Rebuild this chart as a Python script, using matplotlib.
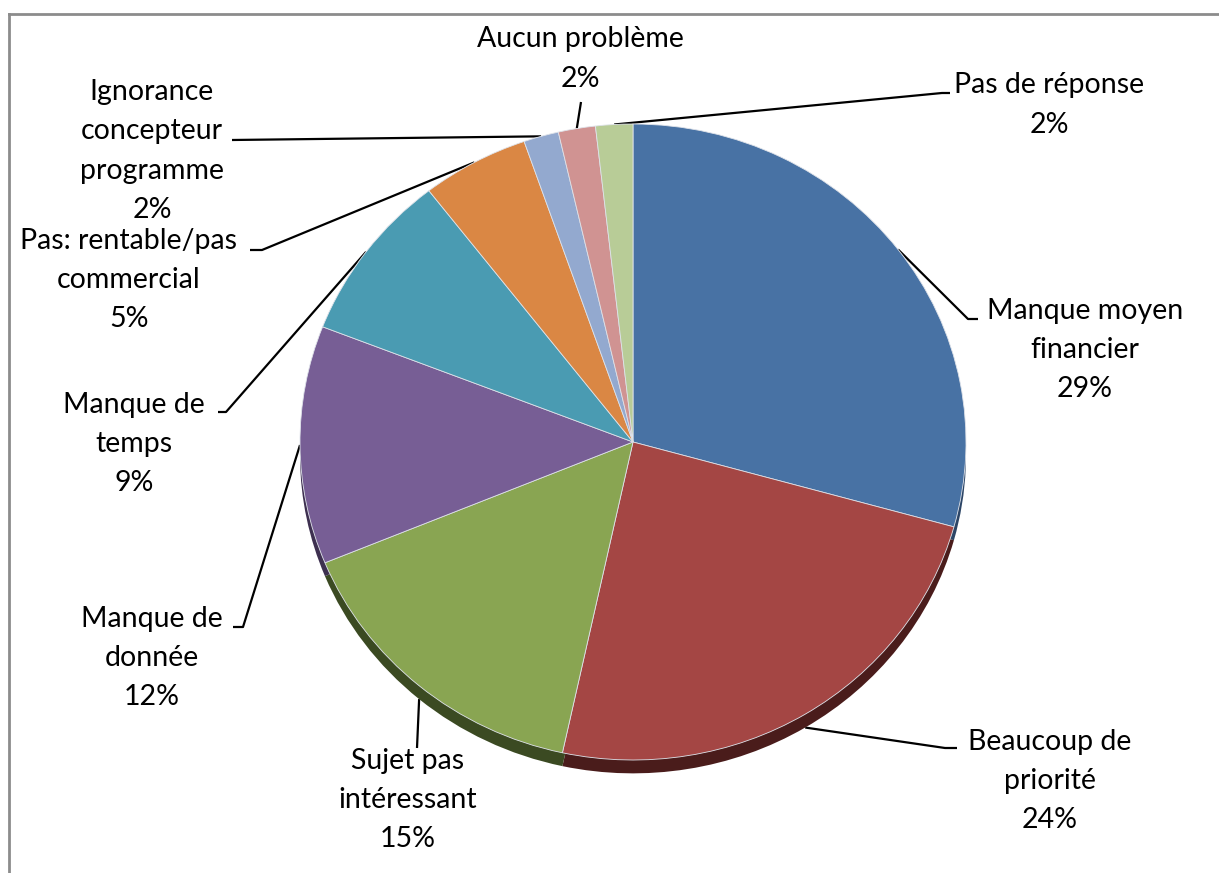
import numpy as np
import matplotlib
matplotlib.use("Agg")
import matplotlib.pyplot as plt

plt.rcParams['font.family'] = ['Lato', 'DejaVu Sans']

labels = ["Manque moyen\nfinancier", "Beaucoup de\npriorité", "Sujet pas\nintéressant",
          "Manque de\ndonnée", "Manque de\ntemps", "Pas: rentable/pas\ncommercial",
          "Ignorance\nconcepteur\nprogramme", "Aucun problème", "Pas de réponse"]
shares = [29.3, 24.1, 15.4, 12.1, 8.6, 5.2, 1.7, 1.8, 1.8]
colors = ["#4872A4", "#A44644", "#89A552", "#775E95", "#4A9BB2",
          "#DA8744", "#93A9CF", "#D09392", "#B8CC97"]
dark = ["#2c4566", "#4a1c1b", "#3b4a22", "#3e3050", "#28566a",
        "#7a4a22", "#55627a", "#7a5655", "#6b7a55"]

# label layout in pixels: text centre, elbow of leader, end of leader
text_xy = [(1085, 350), (1050, 781), (408, 800), (152, 658), (134, 444),
           (129, 280), (152, 151), (580, 59), (1049, 105)]
elbow_xy = [(968, 319), (945, 748), (417, 748), (243, 627), (226, 412),
            (262, 250), (232, 140), (581, 102), (942, 93)]
end_xy = [(978, 319), (957, 748), (417, 748), (233, 627), (218, 412),
          (250, 250), (232, 140), (581, 102), (950, 93)]

W, H = 1219, 873
fig = plt.figure(figsize=(W / 100, H / 100), dpi=100)

# pie axes: ellipse centred at (633, 442), rx 333, ry 318 px
cx, cy, rx, ry = 633, 442, 333, 318
ax = fig.add_axes([(cx - rx) / W, (H - cy - ry) / H, 2 * rx / W, 2 * ry / H])
depth = 0.042
ax.pie(shares, colors=dark, startangle=90, counterclock=False,
       center=(0, -depth), radius=1, wedgeprops=dict(linewidth=0))
wedges, _ = ax.pie(shares, colors=colors, startangle=90, counterclock=False,
                   radius=1, wedgeprops=dict(linewidth=0.6, edgecolor="#dfe3ea"))
ax.set_aspect('auto')
ax.set_xlim(-1, 1)
ax.set_ylim(-1, 1)
ax.axis('off')

# overlay in pixel coordinates
ov = fig.add_axes([0, 0, 1, 1], zorder=-1)
ov.set_xlim(0, W)
ov.set_ylim(H, 0)
ov.axis('off')
fig.patch.set_facecolor('white')
ov.patch.set_alpha(0)

tot = sum(shares)
to_ov = ax.transData + ov.transData.inverted()
for i, w in enumerate(wedges):
    mid = np.deg2rad((w.theta1 + w.theta2) / 2)
    ax_pt = (np.cos(mid), np.sin(mid) - (depth if np.sin(mid) < -0.2 else 0))
    px, py = to_ov.transform(ax_pt)
    ex, ey = elbow_xy[i]
    fx, fy = end_xy[i]
    ov.plot([px, ex, fx], [py, ey, fy], color='black', lw=1.6,
            solid_capstyle='butt')
    pct = round(100 * shares[i] / tot)
    ov.text(text_xy[i][0], text_xy[i][1], f"{labels[i]}\n{pct}%",
            ha='center', va='center', fontsize=20.5, linespacing=1.62,
            color='black')

# outer frame
ov.plot([9, W], [14, 14], color='#8c8c8c', lw=2)
ov.plot([9, 9], [14, H], color='#8c8c8c', lw=2)

fig.savefig("out.png", dpi=100, facecolor='white')
